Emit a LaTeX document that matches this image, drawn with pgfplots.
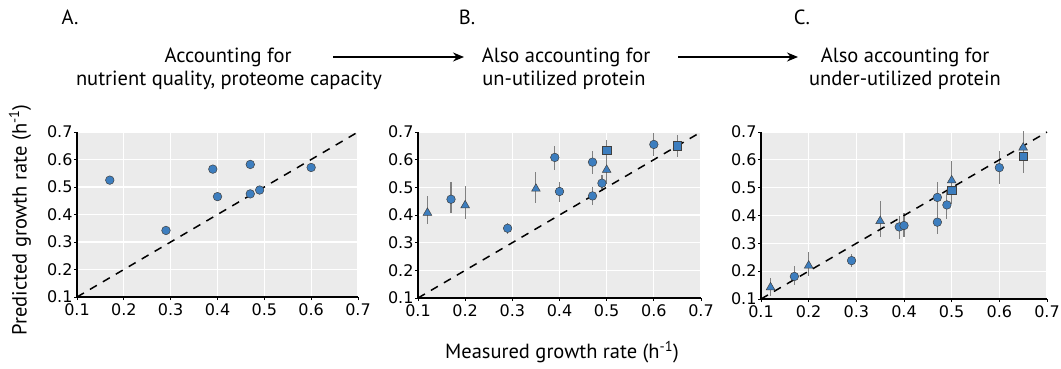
\documentclass[border=0pt]{standalone}
\usepackage{fontspec}
\setmainfont{PT Sans}
\newfontfamily\dejavu{DejaVu Sans}
\usepackage{pgfplots}
\pgfplotsset{compat=1.18}
\usepackage{pgfplotstable}
\usetikzlibrary{arrows.meta}
\definecolor{bgc}{HTML}{EBEBEB}
\definecolor{mk}{HTML}{3D7EBF}
\definecolor{eb}{HTML}{808080}

\pgfplotstableread{
x y
0.17 0.525
0.29 0.342
0.39 0.565
0.40 0.465
0.47 0.582
0.47 0.475
0.49 0.489
0.60 0.571
}\dataA

\pgfplotstableread{
x y ep em
0.17 0.457 0.064 0.048
0.29 0.352 0.020 0.019
0.39 0.608 0.042 0.047
0.40 0.485 0.036 0.038
0.47 0.591 0.041 0.042
0.47 0.469 0.031 0.032
0.49 0.515 0.030 0.030
0.60 0.655 0.041 0.040
}\BcircB
\pgfplotstableread{
x y ep em
0.12 0.408 0.062 0.041
0.20 0.435 0.070 0.050
0.35 0.495 0.062 0.053
0.50 0.563 0.030 0.050
0.65 0.648 0.040 0.040
}\BtriB
\pgfplotstableread{
x y ep em
0.50 0.633 0.037 0.052
0.65 0.650 0.040 0.041
}\BsqB

\pgfplotstableread{
x y ep em
0.17 0.181 0.036 0.030
0.29 0.238 0.024 0.023
0.39 0.359 0.041 0.044
0.40 0.364 0.044 0.042
0.47 0.465 0.054 0.063
0.47 0.376 0.038 0.042
0.49 0.438 0.045 0.051
0.60 0.572 0.060 0.059
}\CcircC
\pgfplotstableread{
x y ep em
0.12 0.142 0.033 0.032
0.20 0.220 0.050 0.037
0.35 0.380 0.073 0.058
0.50 0.526 0.070 0.040
0.65 0.644 0.060 0.040
}\CtriC
\pgfplotstableread{
x y ep em
0.50 0.490 0.040 0.048
0.65 0.613 0.040 0.062
}\CsqC

\pgfplotsset{
  panel/.style={
    scale only axis,
    xmin=0.1, xmax=0.7, ymin=0.1, ymax=0.7,
    xtick={0.1,0.2,0.3,0.4,0.5,0.6,0.7},
    ytick={0.1,0.2,0.3,0.4,0.5,0.6,0.7},
    axis background/.style={fill=bgc},
    grid=major,
    major grid style={white, line width=1.3pt},
    axis x line*=bottom, axis y line*=left,
    axis line style={-, black, line width=1.2pt},
    tick align=outside, major tick length=3pt,
    tick style={black, line width=0.8pt},
    tick label style={font=\dejavu\fontsize{16}{16}\selectfont},
    /pgf/number format/assume math mode=true,
    /pgf/number format/.cd, fixed, fixed zerofill, precision=1, /pgfplots/.cd,
    xticklabel style={yshift=0pt},
    yticklabel style={xshift=2pt},
    clip=false,
  },
  ebars/.style={draw=none, mark=none, forget plot,
    error bars/.cd, y dir=both, y explicit, error mark=none,
    error bar style={draw=eb, line width=1.1pt, solid}},
  mcirc/.style={only marks, mark=*, mark size=4.3pt, mark options={fill=mk, draw=black!75, line width=0.5pt}},
  mtri/.style={only marks, mark=triangle*, mark size=5pt, mark options={fill=mk, draw=black!75, line width=0.5pt}},
  msq/.style={only marks, mark=square*, mark size=4.2pt, mark options={fill=mk, draw=black!75, line width=0.5pt}},
  diag/.style={black, line width=1.5pt, dash pattern=on 8pt off 7pt},
}

\begin{document}
\begin{tikzpicture}[x=1pt,y=1pt]
\useasboundingbox (0,0) rectangle (1061,368);

% Panel A
\begin{axis}[panel, at={(77pt,71pt)}, anchor=south west, width=281pt, height=165pt]
\addplot[mcirc] table[x=x,y=y] {\dataA};
\addplot[diag] coordinates {(0.1,0.1) (0.7,0.7)};
\end{axis}

% Panel B
\begin{axis}[panel, at={(418pt,70pt)}, anchor=south west, width=283pt, height=166pt]
\addplot[ebars] table[x=x,y=y,y error plus=ep,y error minus=em] {\BcircB};
\addplot[ebars] table[x=x,y=y,y error plus=ep,y error minus=em] {\BtriB};
\addplot[ebars] table[x=x,y=y,y error plus=ep,y error minus=em] {\BsqB};
\addplot[mtri] table[x=x,y=y] {\BtriB};
\addplot[mcirc] table[x=x,y=y] {\BcircB};
\addplot[msq] table[x=x,y=y] {\BsqB};
\addplot[diag] coordinates {(0.1,0.1) (0.7,0.7)};
\end{axis}

% Panel C
\begin{axis}[panel, at={(761pt,69pt)}, anchor=south west, width=286pt, height=167pt]
\addplot[ebars] table[x=x,y=y,y error plus=ep,y error minus=em] {\CcircC};
\addplot[ebars] table[x=x,y=y,y error plus=ep,y error minus=em] {\CtriC};
\addplot[ebars] table[x=x,y=y,y error plus=ep,y error minus=em] {\CsqC};
\addplot[mcirc] table[x=x,y=y] {\CcircC};
\addplot[msq] table[x=x,y=y] {\CsqC};
\addplot[mtri] table[x=x,y=y] {\CtriC};
\addplot[diag] coordinates {(0.1,0.1) (0.7,0.7)};
\end{axis}

\begin{scope}[every node/.style={font=\fontsize{20.5}{22}\selectfont, inner sep=0pt}]
\node at (70,351) {A.};
\node at (467,351) {B.};
\node at (802,351) {C.};
\node at (228,311) {Accounting for};
\node at (229,288) {nutrient quality, proteome capacity};
\node at (566,311) {Also accounting for};
\node at (564,288) {un-utilized protein};
\node at (905,311) {Also accounting for};
\node at (905,288) {under-utilized protein};
\node[rotate=90] at (20,148) {Predicted growth rate (h\textsuperscript{-1})};
\node at (562,16) {Measured growth rate (h\textsuperscript{-1})};
\end{scope}
\draw[line width=1.5pt, -{Stealth[length=11pt,width=9pt]}] (333,311) -- (464,311);
\draw[line width=1.5pt, -{Stealth[length=11pt,width=9pt]}] (678,311) -- (798,311);
\end{tikzpicture}
\end{document}
